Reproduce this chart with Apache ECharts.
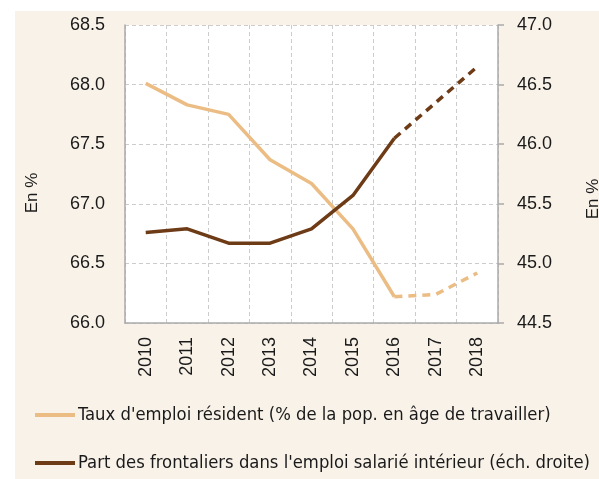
<!DOCTYPE html>
<html>
<head>
<meta charset="utf-8">
<script src="https://cdn.jsdelivr.net/npm/echarts@6/dist/echarts.min.js"></script>
<style>
  html, body { margin: 0; padding: 0; background: #fff; overflow: hidden; }
  #wrap { position: absolute; left: 15px; top: 11px; width: 584px; height: 468px; background: #f9f2e9; }
  #chart { position: absolute; left: 0; top: 0; width: 599px; height: 479px; }
</style>
</head>
<body>
<div id="wrap"></div>
<div id="chart"></div>
<script>
const years = ["2010", "2011", "2012", "2013", "2014", "2015", "2016", "2017", "2018"];
const tauxEmploi = [68.01, 67.83, 67.75, 67.37, 67.17, 66.79, 66.22, 66.24, 66.42];
const partFrontaliers = [45.26, 45.29, 45.17, 45.17, 45.29, 45.57, 46.05, 46.35, 46.65];
const lastObserved = 6; // 2016 : au-delà, prévisions en pointillés

const nameTaux = "Taux d'emploi résident (% de la pop. en âge de travailler)";
const nameFront = "Part des frontaliers dans l'emploi salarié intérieur (éch. droite)";
const colorTaux = "#ebbd84";
const colorFront = "#6e3b17";

const solid = arr => arr.map((v, i) => (i <= lastObserved ? v : null));
const dashed = arr => arr.map((v, i) => (i >= lastObserved ? v : null));

const tickFont = "Liberation Sans, Arial, sans-serif";
const legendFont = "Liberation Sans Narrow, DejaVu Sans Condensed, sans-serif";

const chart = echarts.init(document.getElementById("chart"), null, { renderer: "canvas" });

const valueAxis = (min, max, position) => ({
    type: "value",
    position,
    min,
    max,
    interval: 0.5,
    axisLine: { show: true, lineStyle: { color: "#aaa", width: 1.5 } },
    axisTick: { show: position === "right", length: 6, lineStyle: { color: "#aaa", width: 1.5 } },
    axisLabel: {
        color: "#1a1a1a",
        fontSize: 18,
        fontFamily: tickFont,
        margin: position === "left" ? 20 : 19,
        formatter: v => v.toFixed(1),
    },
    splitLine: { show: position === "left", lineStyle: { color: "#ccc", type: [4, 3] } },
});

const unitLabel = (x, y) => ({
    type: "text",
    x,
    y,
    rotation: Math.PI / 2,
    style: { text: "En %", fill: "#1a1a1a", font: "17px " + tickFont, align: "center", verticalAlign: "middle" },
});

chart.setOption({
    animation: false,
    backgroundColor: "transparent",
    grid: { left: 125, right: 101, top: 25, bottom: 156, backgroundColor: "#fff", show: true, borderWidth: 0 },
    graphic: [unitLabel(32, 193), unitLabel(593, 199)],
    legend: {
        orient: "vertical",
        left: 30,
        top: 401,
        itemGap: 30,
        itemWidth: 40,
        itemHeight: 4,
        icon: "rect",
        data: [nameTaux, nameFront],
        textStyle: { color: "#1a1a1a", fontSize: 18.3, fontFamily: legendFont, padding: [0, 0, 0, -2] },
    },
    xAxis: {
        type: "category",
        data: years,
        boundaryGap: true,
        axisLine: { lineStyle: { color: "#aaa", width: 1.5 } },
        axisTick: { show: false },
        axisLabel: { rotate: 90, color: "#1a1a1a", fontSize: 18, fontFamily: tickFont, margin: 14, interval: 0 },
        splitLine: { show: true, interval: 0, lineStyle: { color: "#ccc", type: [4, 3] } },
    },
    yAxis: [valueAxis(66.0, 68.5, "left"), valueAxis(44.5, 47.0, "right")],
    series: [
        {
            name: nameTaux, type: "line", yAxisIndex: 0, data: solid(tauxEmploi),
            showSymbol: false, lineStyle: { color: colorTaux, width: 3.5 }, itemStyle: { color: colorTaux },
        },
        {
            name: nameTaux + " (prév.)", type: "line", yAxisIndex: 0, data: dashed(tauxEmploi),
            showSymbol: false, lineStyle: { color: colorTaux, width: 3.5, type: [8, 6] }, itemStyle: { color: colorTaux },
        },
        {
            name: nameFront, type: "line", yAxisIndex: 1, data: solid(partFrontaliers),
            showSymbol: false, lineStyle: { color: colorFront, width: 3.5 }, itemStyle: { color: colorFront },
        },
        {
            name: nameFront + " (prév.)", type: "line", yAxisIndex: 1, data: dashed(partFrontaliers),
            showSymbol: false, lineStyle: { color: colorFront, width: 3.5, type: [8, 6] }, itemStyle: { color: colorFront },
        },
    ],
});
</script>
</body>
</html>
